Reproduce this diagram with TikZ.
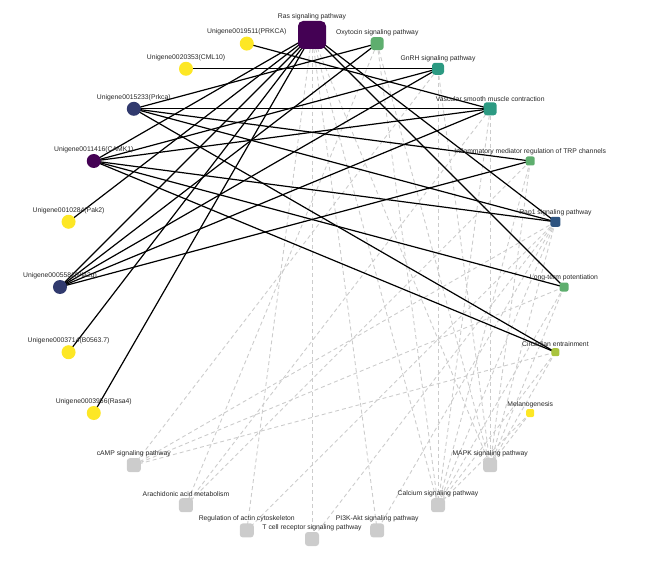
\documentclass[tikz,border=0pt]{standalone}
\usepackage{fontspec}
\setmainfont{Liberation Sans}
\usetikzlibrary{positioning,backgrounds}
\definecolor{viridpurple}{RGB}{68,1,84}
\definecolor{viridnavy}{RGB}{49,58,110}
\definecolor{viridblue}{RGB}{46,84,128}
\definecolor{viridteal}{RGB}{44,154,130}
\definecolor{viridgreen}{RGB}{94,174,110}
\definecolor{viridlime}{RGB}{169,196,61}
\definecolor{viridyellow}{RGB}{253,231,37}
\definecolor{pathgray}{RGB}{204,204,204}

\tikzset{
    gene/.style={circle, fill=#1, minimum size=14pt, inner sep=0pt},
    pathway/.style={rectangle, rounded corners=3pt, fill=#1, inner sep=0pt},
    lbl/.style={font=\fontsize{6.8}{7}\selectfont, text=black!85, inner sep=0.8pt},
    link/.style={black, line width=1.2pt},
    share/.style={pathgray, line width=0.9pt, dash pattern=on 4pt off 3pt}
}

\begin{document}
\begin{tikzpicture}[x=1pt, y=1pt]
    \useasboundingbox (-312,-283) rectangle (354,287);

    % pathways, clockwise from the top
    \node[pathway=viridpurple, minimum size=28pt, rounded corners=5pt, label={[lbl]above:Ras signaling pathway}] (ras) at (90:252) {};
    \node[pathway=viridgreen, minimum size=13pt, label={[lbl]above:Oxytocin signaling pathway}] (oxytocin) at (75:252) {};
    \node[pathway=viridteal, minimum size=12pt, label={[lbl]above:GnRH signaling pathway}] (gnrh) at (60:252) {};
    \node[pathway=viridteal, minimum size=13pt, label={[lbl]above:Vascular smooth muscle contraction}] (vsmc) at (45:252) {};
    \node[pathway=viridgreen, minimum size=9pt, rounded corners=2pt, label={[lbl]above:Inflammatory mediator regulation of TRP channels}] (trp) at (30:252) {};
    \node[pathway=viridblue, minimum size=10pt, rounded corners=2pt, label={[lbl]above:Rap1 signaling pathway}] (rap) at (15:252) {};
    \node[pathway=viridgreen, minimum size=9pt, rounded corners=2pt, label={[lbl]above:Long-term potentiation}] (ltp) at (0:252) {};
    \node[pathway=viridlime, minimum size=8pt, rounded corners=2pt, label={[lbl]above:Circadian entrainment}] (circadian) at (-15:252) {};
    \node[pathway=viridyellow, minimum size=8pt, rounded corners=2pt, label={[lbl]above:Melanogenesis}] (melano) at (-30:252) {};
    \node[pathway=pathgray, minimum size=14pt, label={[lbl]above:MAPK signaling pathway}] (mapk) at (-45:252) {};
    \node[pathway=pathgray, minimum size=14pt, label={[lbl]above:Calcium signaling pathway}] (calcium) at (-60:252) {};
    \node[pathway=pathgray, minimum size=14pt, label={[lbl]above:PI3K-Akt signaling pathway}] (pik) at (-75:252) {};
    \node[pathway=pathgray, minimum size=14pt, label={[lbl]above:T cell receptor signaling pathway}] (tcell) at (-90:252) {};
    \node[pathway=pathgray, minimum size=14pt, label={[lbl]above:Regulation of actin cytoskeleton}] (actin) at (-105:252) {};
    \node[pathway=pathgray, minimum size=14pt, label={[lbl]above:Arachidonic acid metabolism}] (arachidonic) at (-120:252) {};
    \node[pathway=pathgray, minimum size=14pt, label={[lbl]above:cAMP signaling pathway}] (camp) at (-135:252) {};

    % genes
    \node[gene=viridyellow, label={[lbl]above:Unigene0003956(Rasa4)}] (u3956) at (-150:252) {};
    \node[gene=viridyellow, label={[lbl]above:Unigene0003714(B0563.7)}] (u3714) at (-165:252) {};
    \node[gene=viridnavy, label={[lbl]above:Unigene0005581(Pla2g)}] (u5581) at (180:252) {};
    \node[gene=viridyellow, label={[lbl]above:Unigene0010284(Pak2)}] (u10284) at (165:252) {};
    \node[gene=viridpurple, label={[lbl]above:Unigene0011416(CAMK1)}] (u11416) at (150:252) {};
    \node[gene=viridnavy, label={[lbl]above:Unigene0015233(Prkca)}] (u15233) at (135:252) {};
    \node[gene=viridyellow, label={[lbl]above:Unigene0020353(CML10)}] (u20353) at (120:252) {};
    \node[gene=viridyellow, label={[lbl]above:Unigene0019511(PRKCA)}] (u19511) at (105:252) {};

    \begin{scope}[on background layer]
        % shared pathways
        \foreach \a/\b in {ras/mapk, ras/calcium, ras/pik, ras/tcell, ras/actin,
            oxytocin/mapk, oxytocin/calcium, oxytocin/arachidonic,
            gnrh/mapk, gnrh/calcium, gnrh/camp,
            vsmc/mapk, vsmc/calcium, vsmc/arachidonic,
            trp/mapk, trp/calcium, trp/arachidonic,
            rap/mapk, rap/calcium, rap/pik, rap/tcell, rap/actin, rap/camp,
            ltp/mapk, ltp/calcium, ltp/camp,
            circadian/mapk, circadian/calcium, circadian/camp,
            melano/mapk, melano/calcium}
            \draw[share] (\a.center) -- (\b.center);
        % gene to pathway
        \foreach \a/\b in {u19511/vsmc, u20353/gnrh,
            u15233/oxytocin, u15233/vsmc, u15233/trp, u15233/rap, u15233/circadian,
            u11416/ras, u11416/gnrh, u11416/vsmc, u11416/rap, u11416/ltp, u11416/circadian,
            u10284/ras, u5581/ras, u5581/oxytocin, u5581/gnrh, u5581/vsmc, u5581/trp,
            u3714/ras, u3956/ras, ras/rap, ras/ltp}
            \draw[link] (\a.center) -- (\b.center);
    \end{scope}
\end{tikzpicture}
\end{document}
